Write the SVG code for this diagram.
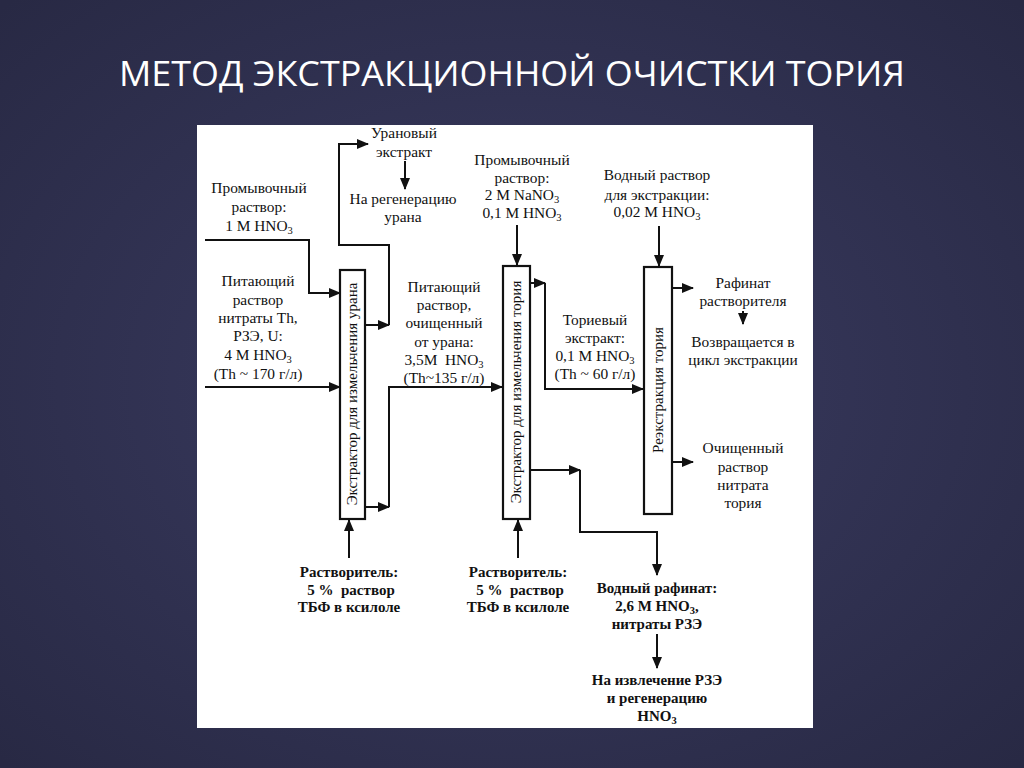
<svg xmlns="http://www.w3.org/2000/svg" width="1024" height="768" viewBox="0 0 1024 768">
<defs>
<radialGradient id="bg" cx="50%" cy="50%" r="70%">
<stop offset="0" stop-color="#3b3c62"/>
<stop offset="1" stop-color="#282944"/>
</radialGradient>
<marker id="ah" markerUnits="userSpaceOnUse" markerWidth="12" markerHeight="10" refX="11" refY="5" orient="auto">
<path d="M0,0 L12,5 L0,10 z" fill="#111"/>
</marker>
<style>
.t{font-family:"Liberation Serif","Times New Roman",serif;font-size:15.4px;fill:#111;text-anchor:middle;white-space:pre}
.b{font-weight:bold;font-size:15px}
.v{font-family:"Liberation Serif","Times New Roman",serif;font-size:15px;fill:#111;text-anchor:middle}
.box{fill:#fff;stroke:#111;stroke-width:2.2}
.c{fill:none;stroke:#111;stroke-width:2;marker-end:url(#ah)}
.ttl{font-family:"Open Sans","Noto Sans",sans-serif;font-size:34px;fill:#fff}
</style>
</defs>
<rect width="1024" height="768" fill="url(#bg)"/>
<text class="ttl" x="119" y="86" textLength="786" lengthAdjust="spacingAndGlyphs">МЕТОД ЭКСТРАКЦИОННОЙ ОЧИСТКИ ТОРИЯ</text>
<rect x="197" y="125" width="616" height="603" fill="#fff"/>

<g id="connectors">
<path class="c" d="M205,240 H309 V293 H340"/>
<path class="c" d="M205,387 H340"/>
<path class="c" d="M365,325 H389"/>
<path class="c" d="M389,325 V245 H339 V144 H368"/>
<path class="c" d="M405,161 V189"/>
<path class="c" d="M365,507 H389"/>
<path class="c" d="M389,507 V387 H502"/>
<path class="c" d="M349,558 V520"/>
<path class="c" d="M518,558 V520"/>
<path class="c" d="M517,225 V265"/>
<path class="c" d="M530,283 H545"/>
<path class="c" d="M545,283 V389 H643"/>
<path class="c" d="M530,470 H580"/>
<path class="c" d="M580,470 V532 H657 V575"/>
<path class="c" d="M659,226 V266"/>
<path class="c" d="M672,288 H693"/>
<path class="c" d="M672,462 H693"/>
<path class="c" d="M743,311 V324"/>
<path class="c" d="M657,634 V668"/>
</g>

<g id="box1">
<rect class="box" x="340" y="270" width="25" height="249"/>
<text class="v" transform="translate(357,394) rotate(-90)">Экстрактор для измельчения урана</text>
</g>
<g id="box2">
<rect class="box" x="503" y="266" width="27" height="253"/>
<text class="v" transform="translate(521,392) rotate(-90)">Экстрактор для измельчения тория</text>
</g>
<g id="box3">
<rect class="box" x="644" y="267" width="28" height="247"/>
<text class="v" transform="translate(663,390) rotate(-90)">Реэкстракция тория</text>
</g>

<g id="wash1">
<text class="t" x="259" y="193">Промывочный</text>
<text class="t" x="259" y="212">раствор:</text>
<text class="t" x="259" y="231">1 M HNO<tspan font-size="10.5" dy="3">3</tspan></text>
</g>
<g id="feed1">
<text class="t" x="258" y="286">Питающий</text>
<text class="t" x="258" y="305">раствор</text>
<text class="t" x="258" y="323">нитраты Th,</text>
<text class="t" x="258" y="341">РЗЭ, U:</text>
<text class="t" x="258" y="360">4 M HNO<tspan font-size="10.5" dy="3">3</tspan></text>
<text class="t" x="258" y="379">(Th ~ 170 г/л)</text>
</g>
<g id="uranext">
<text class="t" x="404" y="138">Урановый</text>
<text class="t" x="404" y="157">экстракт</text>
<text class="t" x="403" y="204">На регенерацию</text>
<text class="t" x="403" y="222">урана</text>
</g>
<g id="wash2">
<text class="t" x="522" y="165">Промывочный</text>
<text class="t" x="522" y="183">раствор:</text>
<text class="t" x="522" y="200">2 M NaNO<tspan font-size="10.5" dy="3">3</tspan></text>
<text class="t" x="522" y="218">0,1 M HNO<tspan font-size="10.5" dy="3">3</tspan></text>
</g>
<g id="feed2">
<text class="t" x="444" y="292">Питающий</text>
<text class="t" x="444" y="310">раствор,</text>
<text class="t" x="444" y="328">очищенный</text>
<text class="t" x="444" y="347">от урана:</text>
<text class="t" x="444" y="365">3,5M  HNO<tspan font-size="10.5" dy="3">3</tspan></text>
<text class="t" x="444" y="383">(Th~135 г/л)</text>
</g>
<g id="water">
<text class="t" x="657" y="180">Водный раствор</text>
<text class="t" x="657" y="200">для экстракции:</text>
<text class="t" x="657" y="217">0,02 M HNO<tspan font-size="10.5" dy="3">3</tspan></text>
</g>
<g id="thext">
<text class="t" x="595" y="325">Ториевый</text>
<text class="t" x="595" y="343">экстракт:</text>
<text class="t" x="595" y="361">0,1 M HNO<tspan font-size="10.5" dy="3">3</tspan></text>
<text class="t" x="595" y="379">(Th ~ 60 г/л)</text>
</g>
<g id="raff">
<text class="t" x="743" y="288">Рафинат</text>
<text class="t" x="743" y="306">растворителя</text>
<text class="t" x="743" y="347">Возвращается в</text>
<text class="t" x="743" y="365">цикл экстракции</text>
</g>
<g id="pure">
<text class="t" x="743" y="453">Очищенный</text>
<text class="t" x="743" y="472">раствор</text>
<text class="t" x="743" y="490">нитрата</text>
<text class="t" x="743" y="508">тория</text>
</g>
<g id="solv1">
<text class="t b" x="349" y="577">Растворитель:</text>
<text class="t b" x="351" y="595">5 %  раствор</text>
<text class="t b" x="349" y="612">ТБФ в ксилоле</text>
</g>
<g id="solv2">
<text class="t b" x="518" y="577">Растворитель:</text>
<text class="t b" x="520" y="595">5 %  раствор</text>
<text class="t b" x="518" y="612">ТБФ в ксилоле</text>
</g>
<g id="aqraff">
<text class="t b" x="657" y="593">Водный рафинат:</text>
<text class="t b" x="657" y="611">2,6 M HNO<tspan font-size="10.5" dy="3">3</tspan><tspan dy="-3">,</tspan></text>
<text class="t b" x="657" y="629">нитраты РЗЭ</text>
</g>
<g id="ree">
<text class="t b" x="657" y="685">На извлечение РЗЭ</text>
<text class="t b" x="657" y="703">и регенерацию</text>
<text class="t b" x="657" y="721">HNO<tspan font-size="10.5" dy="3">3</tspan></text>
</g>
</svg>
